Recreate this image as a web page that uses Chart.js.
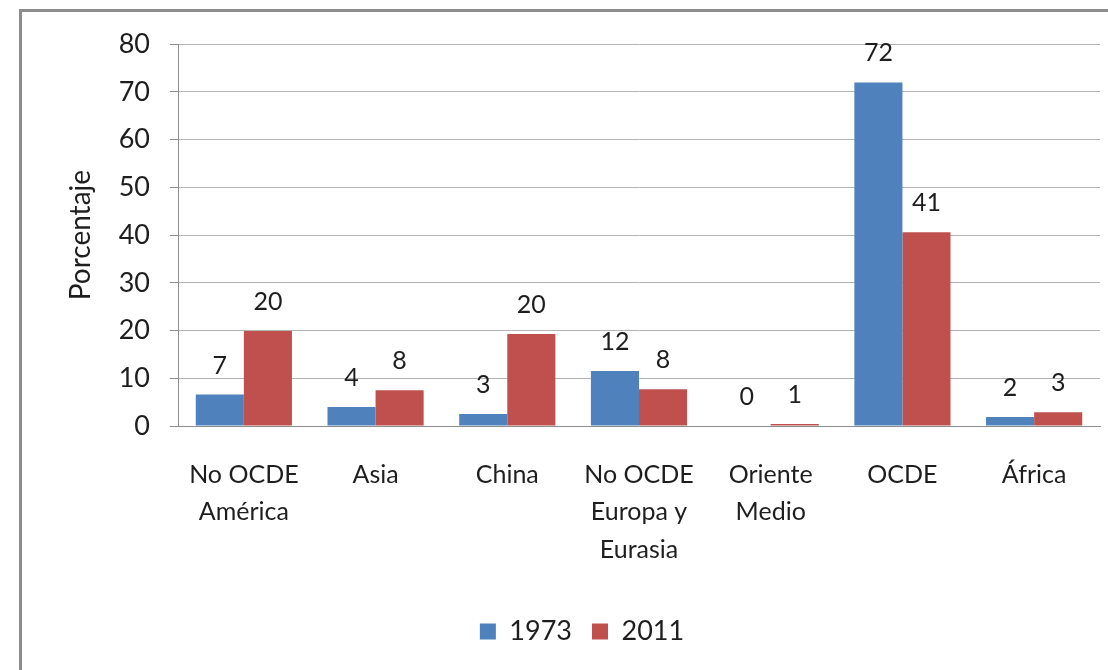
<!DOCTYPE html>
<html>
<head>
<meta charset="utf-8">
<script src="https://cdn.jsdelivr.net/npm/chart.js@4.4.1/dist/chart.umd.min.js"></script>
<style>
  html, body { margin: 0; padding: 0; background: #fff; overflow: hidden; }
  #marco {
    position: absolute; left: 19px; top: 9px;
    width: 1126px; height: 690px;
    border: 3px solid #8c8c8c;
    background: #fff;
  }
  canvas { display: block; position: relative; top: -4px; }
</style>
</head>
<body>
<div id="marco"><canvas id="grafico" width="1126" height="690"></canvas></div>
<script>
// datos
const categorias = [['No OCDE', 'América'], 'Asia', 'China', ['No OCDE', 'Europa y', 'Eurasia'], ['Oriente', 'Medio'], 'OCDE', 'África'];
const valores1973 = [6.6, 4.0, 2.5, 11.5, 0, 72.0, 1.9];
const valores2011 = [19.9, 7.5, 19.3, 7.7, 0.4, 40.6, 2.9];
const etiquetas1973 = ['7', '4', '3', '12', '0', '72', '2'];
const etiquetas2011 = ['20', '8', '20', '8', '1', '41', '3'];
const ticksY = [0, 10, 20, 30, 40, 50, 60, 70, 80];

const fuente = 'Lato, "Open Sans", sans-serif';
const colorTexto = '#1e1e1e';

// etiquetas encima de cada barra (valor redondeado como en el original)
const etiquetasBarras = {
    id: 'etiquetasBarras',
    afterDatasetsDraw(chart) {
        const c = chart.ctx;
        c.save();
        c.font = '25px ' + fuente;
        c.fillStyle = colorTexto;
        c.textAlign = 'center';
        c.textBaseline = 'alphabetic';
        chart.data.datasets.forEach((ds, i) => {
            const meta = chart.getDatasetMeta(i);
            meta.data.forEach((bar, j) => {
                c.fillText(ds.etiquetas[j], bar.x, bar.y - 21);
            });
        });
        c.restore();
    }
};

const ctx = document.getElementById('grafico');

new Chart(ctx, {
    type: 'bar',
    data: {
        labels: categorias,
        datasets: [
            { label: '1973', data: valores1973, etiquetas: etiquetas1973, backgroundColor: '#4f81bd' },
            { label: '2011', data: valores2011, etiquetas: etiquetas2011, backgroundColor: '#c0504d' }
        ]
    },
    options: {
        responsive: false,
        animation: false,
        layout: { padding: { top: 24, right: 48, left: 42, bottom: 43 } },
        datasets: { bar: { categoryPercentage: 0.73, barPercentage: 1.0 } },
        plugins: {
            tooltip: { enabled: false },
            legend: {
                position: 'bottom',
                labels: {
                    boxWidth: 16, boxHeight: 16, padding: 20,
                    color: colorTexto,
                    font: { family: fuente, size: 27 }
                }
            }
        },
        scales: {
            x: {
                grid: { display: true, drawOnChartArea: false, drawTicks: false },
                border: { color: '#8e8e8e', width: 1 },
                ticks: {
                    color: colorTexto, padding: 30, maxRotation: 0, autoSkip: false,
                    font: { family: fuente, size: 25, lineHeight: 1.5 }
                },
                afterFit(scale) { scale.height = 172; }
            },
            y: {
                min: 0, max: 80,
                afterBuildTicks(scale) { scale.ticks = ticksY.map(v => ({ value: v })); },
                grid: { color: '#b4b4b4', tickLength: 8, tickColor: '#8e8e8e' },
                border: { color: '#8e8e8e', width: 1 },
                ticks: {
                    color: colorTexto, padding: 20,
                    font: { family: fuente, size: 27 }
                },
                title: {
                    display: true, text: 'Porcentaje', color: colorTexto,
                    font: { family: fuente, size: 28 },
                    padding: { top: 0, bottom: 0 }
                },
                afterFit(scale) { scale.width = 114; }
            }
        }
    },
    plugins: [etiquetasBarras]
});
</script>
</body>
</html>
